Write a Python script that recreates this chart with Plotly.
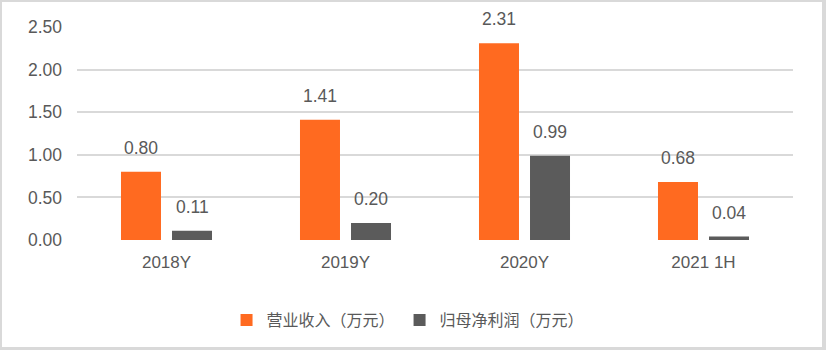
import plotly.graph_objects as go

categories = ["2018Y", "2019Y", "2020Y", "2021 1H"]
revenue = [0.80, 1.41, 2.31, 0.68]
net_profit = [0.11, 0.20, 0.99, 0.04]
series_names = ["营业收入（万元）", "归母净利润（万元）"]
tick_vals = [0, 0.5, 1.0, 1.5, 2.0, 2.5]
tick_text = ["0.00", "0.50", "1.00", "1.50", "2.00", "2.50"]

ORANGE = "#FF6A20"
GRAY = "#5B5B5B"
TEXT = "#595959"
FONT = "Liberation Sans, Noto Sans CJK SC, sans-serif"

W, H = 826, 350
ML, MR, MT, MB = 77, 33, 27, 110

fig = go.Figure()
fig.add_trace(go.Bar(x=categories, y=revenue, name=series_names[0],
                     marker=dict(color=ORANGE, line=dict(width=0))))
fig.add_trace(go.Bar(x=categories, y=net_profit, name=series_names[1],
                     marker=dict(color=GRAY, line=dict(width=0))))

# value labels
plot_w = W - ML - MR
slot = plot_w / len(categories) * (1 - 0.43) / 2
for vals, sgn in ((revenue, -1), (net_profit, 1)):
    for c, v in zip(categories, vals):
        fig.add_annotation(x=c, y=v, text=f"{v:.2f}", showarrow=False,
                           xshift=sgn * slot / 2, yanchor="bottom", yshift=12,
                           font=dict(size=17.5, color=TEXT, family=FONT))

# frame
px = lambda x: (x - ML) / plot_w
py = lambda y: (H - MB - y) / (H - MT - MB)
fig.add_shape(type="rect", xref="paper", yref="paper", layer="below",
              x0=px(2), x1=px(822), y0=py(347), y1=py(2),
              fillcolor="white", line=dict(width=0))

fig.update_layout(
    width=W, height=H,
    margin=dict(l=ML, r=MR, t=MT, b=MB, pad=0),
    paper_bgcolor="#D9D9D9", plot_bgcolor="rgba(0,0,0,0)",
    barmode="group", bargap=0.43, bargroupgap=0.216,
    font=dict(family=FONT, size=17, color=TEXT),
    showlegend=True,
    legend=dict(orientation="h", xref="container", yref="container",
                x=0.494, xanchor="center", y=1 - 320 / H, yanchor="middle",
                font=dict(size=16, color=TEXT), bgcolor="rgba(0,0,0,0)",
                itemsizing="constant", traceorder="normal"),
    xaxis=dict(showgrid=False, showline=False, ticks="", zeroline=False,
               tickfont=dict(size=17, color=TEXT), ticklabelstandoff=10),
    yaxis=dict(range=[0, 2.5], tickvals=tick_vals, ticktext=tick_text,
               showgrid=True, gridcolor="#D9D9D9", gridwidth=1.6,
               zeroline=False, showline=False, ticks="",
               tickfont=dict(size=17.5, color=TEXT), ticklabelstandoff=14),
)

fig.write_html("out.html")
